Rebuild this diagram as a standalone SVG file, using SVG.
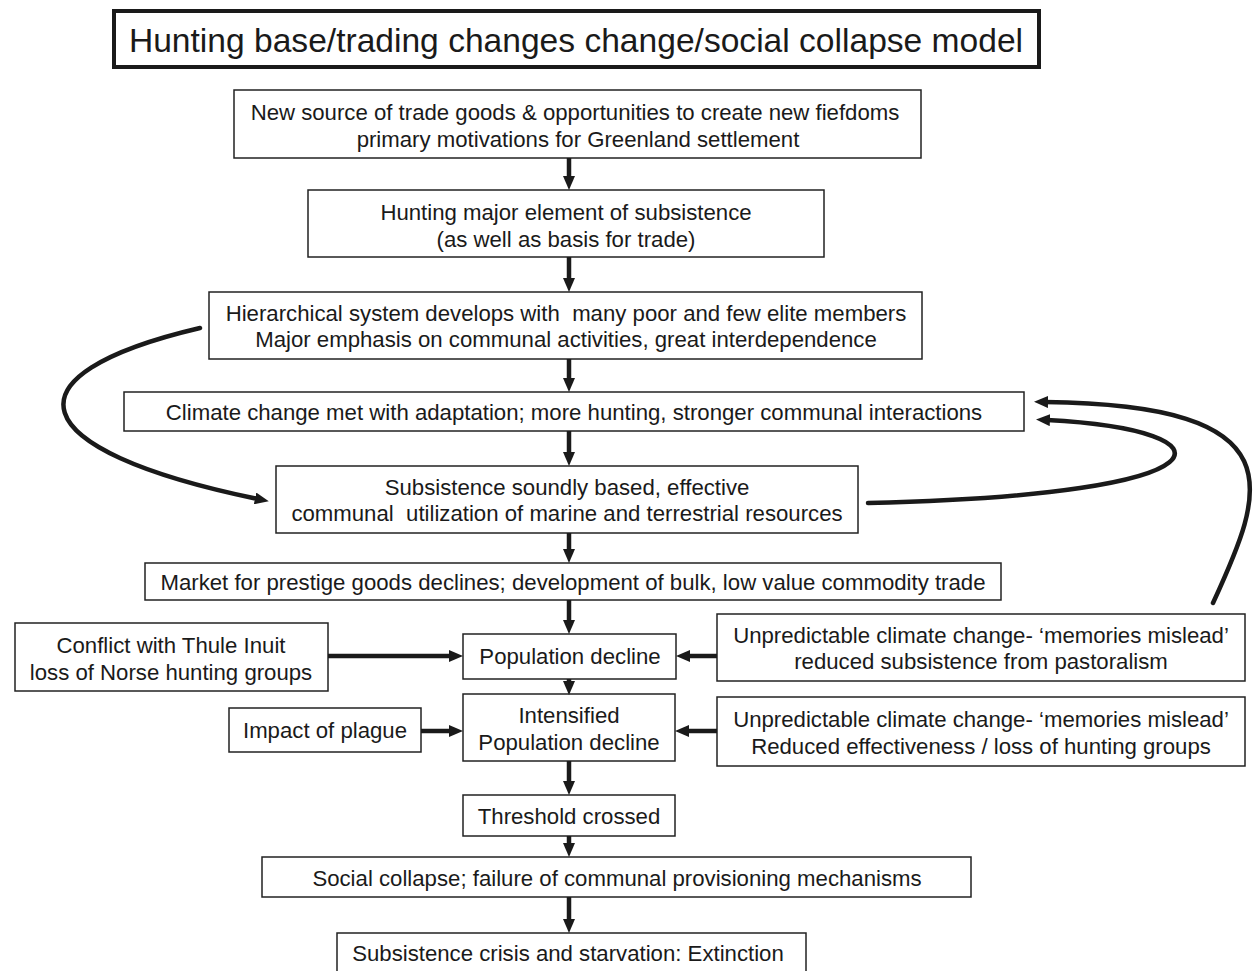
<svg xmlns="http://www.w3.org/2000/svg" width="1255" height="971" viewBox="0 0 1255 971">
<style>
.box{fill:#fff;stroke:#222;stroke-width:1.5}
.t{font-family:"Liberation Sans",Arial,sans-serif;font-size:22.2px;fill:#1a1a1a;text-anchor:middle;white-space:pre}
.c{fill:none;stroke:#1a1a1a;stroke-width:4.5;stroke-linecap:round}
</style>
<defs>
<marker id="ah" viewBox="0 0 14 12" markerWidth="14" markerHeight="12" refX="3" refY="6" orient="auto" markerUnits="userSpaceOnUse">
<path d="M0,0 L14,6 L0,12 z" fill="#1a1a1a"/>
</marker>
</defs>
<rect width="1255" height="971" fill="#fff"/>
<g id="title">
<rect x="114" y="11" width="925" height="56" fill="#fff" stroke="#1a1a1a" stroke-width="4"/>
<text x="576" y="52" class="t" style="font-size:33.6px">Hunting base/trading changes change/social collapse model</text>
</g>
<g id="n1"><rect class="box" x="234" y="90" width="687" height="68"/>
<text class="t" x="575" y="120">New source of trade goods &amp; opportunities to create new fiefdoms</text>
<text class="t" x="578" y="147">primary motivations for Greenland settlement</text></g>
<g id="n2"><rect class="box" x="308" y="190" width="516" height="67"/>
<text class="t" x="566" y="220">Hunting major element of subsistence</text>
<text class="t" x="566" y="247">(as well as basis for trade)</text></g>
<g id="n3"><rect class="box" x="209" y="292" width="713" height="67"/>
<text class="t" x="566" y="321" xml:space="preserve">Hierarchical system develops with  many poor and few elite members</text>
<text class="t" x="566" y="347">Major emphasis on communal activities, great interdependence</text></g>
<g id="n4"><rect class="box" x="124" y="392" width="900" height="39"/>
<text class="t" x="574" y="420">Climate change met with adaptation; more hunting, stronger communal interactions</text></g>
<g id="n5"><rect class="box" x="276" y="466" width="582" height="67"/>
<text class="t" x="567" y="495">Subsistence soundly based, effective</text>
<text class="t" x="567" y="521" xml:space="preserve">communal  utilization of marine and terrestrial resources</text></g>
<g id="n6"><rect class="box" x="145" y="563" width="856" height="37"/>
<text class="t" x="573" y="590">Market for prestige goods declines; development of bulk, low value commodity trade</text></g>
<g id="n7"><rect class="box" x="463" y="634" width="213" height="45"/>
<text class="t" x="570" y="664">Population decline</text></g>
<g id="n8"><rect class="box" x="15" y="623" width="313" height="68"/>
<text class="t" x="171" y="653">Conflict with Thule Inuit</text>
<text class="t" x="171" y="680">loss of Norse hunting groups</text></g>
<g id="n9"><rect class="box" x="717" y="614" width="528" height="67"/>
<text class="t" x="981" y="643">Unpredictable climate change- ‘memories mislead’</text>
<text class="t" x="981" y="669">reduced subsistence from pastoralism</text></g>
<g id="n10"><rect class="box" x="463" y="694" width="212" height="67"/>
<text class="t" x="569" y="723">Intensified</text>
<text class="t" x="569" y="750">Population decline</text></g>
<g id="n11"><rect class="box" x="229" y="708" width="192" height="44"/>
<text class="t" x="325" y="738">Impact of plague</text></g>
<g id="n12"><rect class="box" x="717" y="697" width="528" height="69"/>
<text class="t" x="981" y="727">Unpredictable climate change- ‘memories mislead’</text>
<text class="t" x="981" y="754">Reduced effectiveness / loss of hunting groups</text></g>
<g id="n13"><rect class="box" x="463" y="795" width="212" height="41"/>
<text class="t" x="569" y="824">Threshold crossed</text></g>
<g id="n14"><rect class="box" x="262" y="857" width="709" height="40"/>
<text class="t" x="617" y="886">Social collapse; failure of communal provisioning mechanisms</text></g>
<g id="n15"><rect class="box" x="337" y="933" width="469" height="45"/>
<text class="t" x="568" y="961">Subsistence crisis and starvation: Extinction</text></g>
<g id="connectors">
<line class="c" style="stroke-linecap:butt" x1="569" y1="158" x2="569" y2="179" marker-end="url(#ah)"/>
<line class="c" style="stroke-linecap:butt" x1="569" y1="257" x2="569" y2="281" marker-end="url(#ah)"/>
<line class="c" style="stroke-linecap:butt" x1="569" y1="359" x2="569" y2="381" marker-end="url(#ah)"/>
<line class="c" style="stroke-linecap:butt" x1="569" y1="431" x2="569" y2="455" marker-end="url(#ah)"/>
<line class="c" style="stroke-linecap:butt" x1="569" y1="533" x2="569" y2="552" marker-end="url(#ah)"/>
<line class="c" style="stroke-linecap:butt" x1="569" y1="600" x2="569" y2="623" marker-end="url(#ah)"/>
<line class="c" style="stroke-linecap:butt" x1="569" y1="679" x2="569" y2="684" marker-end="url(#ah)"/>
<line class="c" style="stroke-linecap:butt" x1="569" y1="761" x2="569" y2="784" marker-end="url(#ah)"/>
<line class="c" style="stroke-linecap:butt" x1="569" y1="836" x2="569" y2="846" marker-end="url(#ah)"/>
<line class="c" style="stroke-linecap:butt" x1="569" y1="897" x2="569" y2="922" marker-end="url(#ah)"/>
<line class="c" style="stroke-linecap:butt" x1="328" y1="656" x2="452" y2="656" marker-end="url(#ah)"/>
<line class="c" style="stroke-linecap:butt" x1="717" y1="656" x2="687" y2="656" marker-end="url(#ah)"/>
<line class="c" style="stroke-linecap:butt" x1="421" y1="731" x2="452" y2="731" marker-end="url(#ah)"/>
<line class="c" style="stroke-linecap:butt" x1="717" y1="731" x2="686" y2="731" marker-end="url(#ah)"/>
<path class="c" d="M200,328 C0,375 20,450 258,499" marker-end="url(#ah)"/>
<path class="c" d="M868,503 C1240,495 1240,430 1047,420" marker-end="url(#ah)"/>
<path class="c" d="M1213,603 C1265,490 1300,405 1045,402" marker-end="url(#ah)"/>
</g>
</svg>
